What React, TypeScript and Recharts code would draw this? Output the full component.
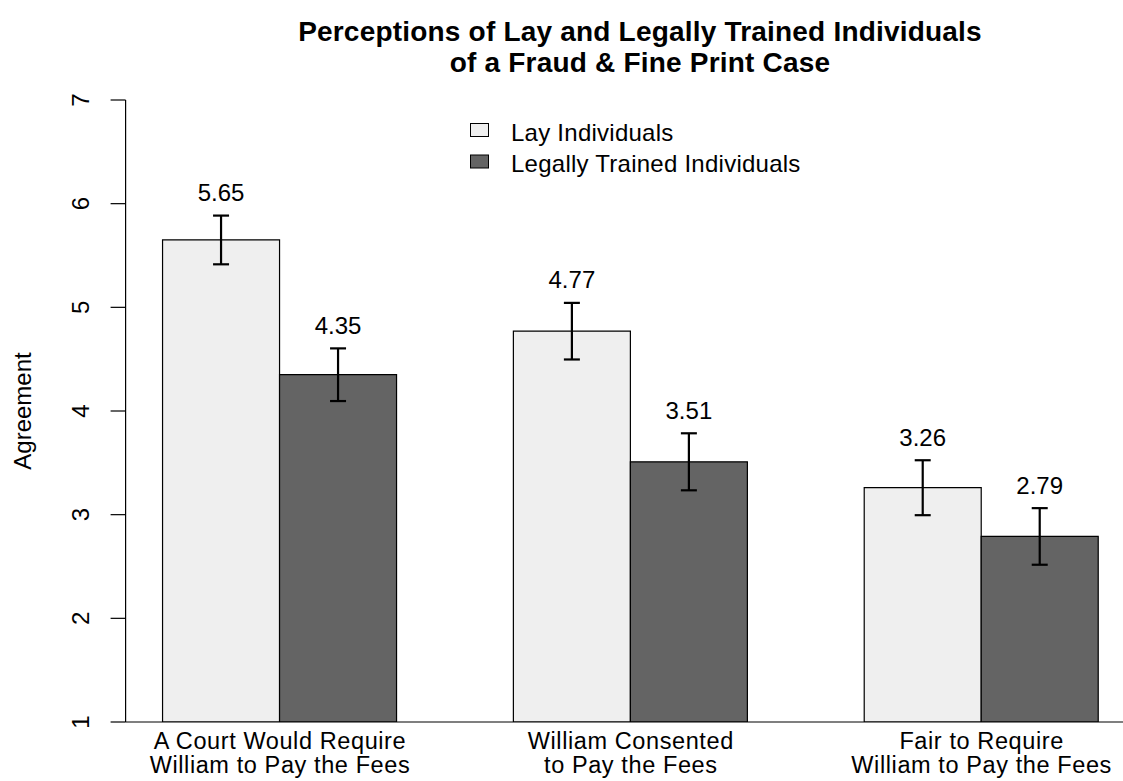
import React from 'react';
import { BarChart, Bar, XAxis, YAxis, ErrorBar, LabelList, Legend } from 'recharts';

const categories = [
  ['A Court Would Require', 'William to Pay the Fees'],
  ['William Consented', 'to Pay the Fees'],
  ['Fair to Require', 'William to Pay the Fees'],
];
const groupCenters = [2, 5, 8];
const layMeans = [5.65, 4.77, 3.26];
const legalMeans = [4.35, 3.51, 2.79];
const layErrors = [0.235, 0.273, 0.265];
const legalErrors = [0.254, 0.275, 0.273];
const yTicks = [1, 2, 3, 4, 5, 6, 7];
const seriesNames = ['Lay Individuals', 'Legally Trained Individuals'];
const titleLines = ['Perceptions of Lay and Legally Trained Individuals', 'of a Fraud & Fine Print Case'];

const FONT = '"Liberation Sans", Arial, Helvetica, sans-serif';
const LAY_FILL = '#efefef';
const LEGAL_FILL = '#646464';

const data = categories.map((lines, i) => ({
  pos: groupCenters[i],
  lines,
  lay: layMeans[i],
  legal: legalMeans[i],
  layErr: layErrors[i],
  legalErr: legalErrors[i],
}));

const CategoryTick = (props: any) => {
  const { x, y, payload } = props;
  const idx = groupCenters.indexOf(payload.value);
  const lines = idx >= 0 ? categories[idx] : [];
  return (
    <g>
      {lines.map((l, i) => (
        <text
          key={i}
          x={x}
          y={y + 19 + i * 24}
          textAnchor="middle"
          fontSize={23.5}
          letterSpacing={0.6}
          fontFamily={FONT}
          fill="#000"
        >
          {l}
        </text>
      ))}
    </g>
  );
};

const ValueTick = (props: any) => {
  const { x, y, payload } = props;
  const cx = x - 28;
  return (
    <text
      x={cx}
      y={y}
      textAnchor="middle"
      dominantBaseline="central"
      transform={`rotate(-90, ${cx}, ${y})`}
      fontSize={24}
      fontFamily={FONT}
      fill="#000"
    >
      {payload.value}
    </text>
  );
};

const makeValueLabel = (errors: number[], means: number[]) => (props: any) => {
  const vb = props.viewBox || props;
  const { x, y, width, height } = vb;
  let idx = typeof props.index === 'number' ? props.index : means.indexOf(Number(props.value));
  if (idx < 0) idx = 0;
  const pxPerUnit = height / (means[idx] - 1);
  const top = y - errors[idx] * pxPerUnit;
  return (
    <text
      x={x + width / 2}
      y={top - 23}
      textAnchor="middle"
      dominantBaseline="central"
      fontSize={24}
      fontFamily={FONT}
      fill="#000"
    >
      {means[idx].toFixed(2)}
    </text>
  );
};

const LegendBox = () => (
  <svg width={400} height={70} style={{ display: 'block' }}>
    {seriesNames.map((name, i) => (
      <g key={name}>
        <rect x={0.5} y={6.5 + i * 31.5} width={18} height={13} fill={i === 0 ? LAY_FILL : LEGAL_FILL} stroke="#000" />
        <text x={41} y={23.5 + i * 31.5} fontSize={24} letterSpacing={0.25} fontFamily={FONT} fill="#000">
          {name}
        </text>
      </g>
    ))}
  </svg>
);

export default function App() {
  return (
    <div
      style={{
        position: 'absolute',
        left: 0,
        top: 0,
        width: 1123,
        height: 781,
        overflow: 'hidden',
        background: '#fff',
        fontFamily: FONT,
      }}
    >
      <BarChart
        width={1140}
        height={781}
        data={data}
        margin={{ top: 100, right: 4, bottom: 0, left: 65.6 }}
        barGap={0}
        barSize={117}
      >
        <XAxis
          type="number"
          dataKey="pos"
          domain={[0.68, 9.32]}
          ticks={groupCenters}
          allowDataOverflow
          tickLine={false}
          axisLine={{ stroke: '#000', strokeWidth: 1.2 }}
          height={59}
          tick={<CategoryTick />}
          interval={0}
        />
        <YAxis
          type="number"
          domain={[1, 7]}
          ticks={yTicks}
          allowDataOverflow
          width={60}
          tickSize={15}
          axisLine={{ stroke: '#000', strokeWidth: 1.2 }}
          tickLine={{ stroke: '#000', strokeWidth: 1.2 }}
          tick={<ValueTick />}
          interval={0}
        />
        <Legend
          layout="vertical"
          align="center"
          verticalAlign="middle"
          wrapperStyle={{ left: 470, top: 117, width: 400 }}
          content={() => <LegendBox />}
        />
        <Bar dataKey="lay" name={seriesNames[0]} fill={LAY_FILL} stroke="#000" strokeWidth={1.2} isAnimationActive={false}>
          <ErrorBar dataKey="layErr" direction="y" width={8} stroke="#000" strokeWidth={2.2} />
          <LabelList dataKey="lay" content={makeValueLabel(layErrors, layMeans)} />
        </Bar>
        <Bar dataKey="legal" name={seriesNames[1]} fill={LEGAL_FILL} stroke="#000" strokeWidth={1.2} isAnimationActive={false}>
          <ErrorBar dataKey="legalErr" direction="y" width={8} stroke="#000" strokeWidth={2.2} />
          <LabelList dataKey="legal" content={makeValueLabel(legalErrors, legalMeans)} />
        </Bar>
      </BarChart>
      <svg
        width={1123}
        height={781}
        style={{ position: 'absolute', left: 0, top: 0, pointerEvents: 'none' }}
      >
        {titleLines.map((t, i) => (
          <text
            key={i}
            x={640}
            y={41 + i * 31}
            textAnchor="middle"
            fontSize={28}
            fontWeight="bold"
            letterSpacing={0.2}
            fontFamily={FONT}
            fill="#000"
          >
            {t}
          </text>
        ))}
        <text
          x={22}
          y={411}
          textAnchor="middle"
          dominantBaseline="central"
          transform="rotate(-90, 22, 411)"
          fontSize={24}
          fontFamily={FONT}
          fill="#000"
        >
          Agreement
        </text>
      </svg>
    </div>
  );
}
